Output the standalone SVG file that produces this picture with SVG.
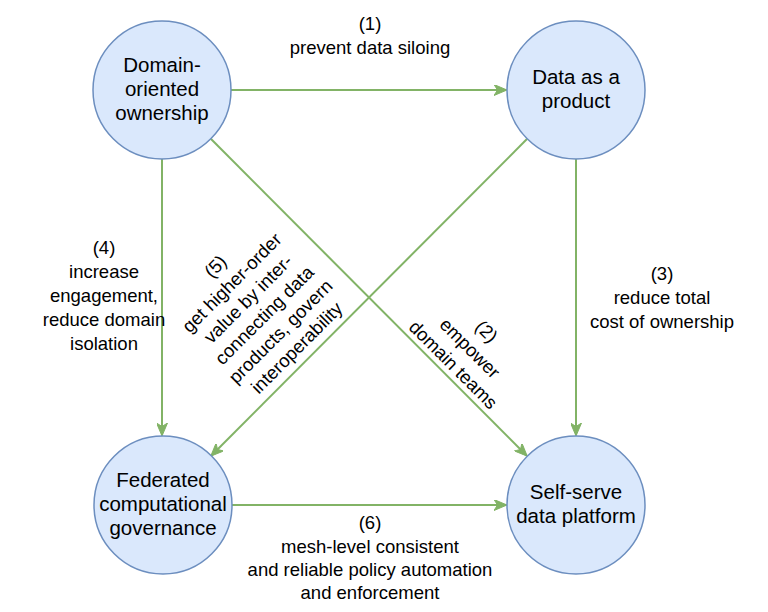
<svg xmlns="http://www.w3.org/2000/svg" width="768" height="612" viewBox="0 0 768 612">
<style>
.node circle{fill:#dae8fc;stroke:#6c8ebf;stroke-width:1.5}
.nl{font-family:"Liberation Sans",Arial,Helvetica,sans-serif;font-size:20.5px;fill:#000;text-anchor:middle}
.el{font-family:"Liberation Sans",Arial,Helvetica,sans-serif;font-size:18.5px;fill:#000;text-anchor:middle}
.edge{stroke:#82b366;stroke-width:2;fill:none}
</style>
<defs>
<marker id="arr" markerUnits="userSpaceOnUse" viewBox="0 0 13 11" refX="12" refY="5.5" markerWidth="13" markerHeight="11" orient="auto">
<path d="M0,0 L13,5.5 L0,11 L3.5,5.5 Z" fill="#82b366" stroke="#82b366" stroke-width="1"/>
</marker>
</defs>
<rect width="768" height="612" fill="#fff"/>
<g id="connectors">
<line class="edge" x1="231" y1="90" x2="506" y2="90" marker-end="url(#arr)"/>
<line class="edge" x1="231" y1="505" x2="506" y2="505" marker-end="url(#arr)"/>
<line class="edge" x1="162" y1="159" x2="162" y2="435" marker-end="url(#arr)"/>
<line class="edge" x1="576" y1="159" x2="576" y2="435" marker-end="url(#arr)"/>
<line class="edge" x1="210.8" y1="138.8" x2="526.5" y2="455.5" marker-end="url(#arr)"/>
<line class="edge" x1="527.2" y1="138.8" x2="211.5" y2="455.5" marker-end="url(#arr)"/>
</g>
<g id="node-domain" class="node">
<circle cx="162" cy="90" r="69"/>
<text class="nl"><tspan x="162" y="72">Domain-</tspan><tspan x="162" y="96">oriented</tspan><tspan x="162" y="120">ownership</tspan></text>
</g>
<g id="node-product" class="node">
<circle cx="576" cy="90" r="69"/>
<text class="nl"><tspan x="576" y="84">Data as a</tspan><tspan x="576" y="108">product</tspan></text>
</g>
<g id="node-governance" class="node">
<circle cx="163" cy="505" r="69"/>
<text class="nl"><tspan x="163" y="487">Federated</tspan><tspan x="163" y="511">computational</tspan><tspan x="163" y="535">governance</tspan></text>
</g>
<g id="node-platform" class="node">
<circle cx="576" cy="505" r="69"/>
<text class="nl"><tspan x="576" y="499">Self-serve</tspan><tspan x="576" y="523">data platform</tspan></text>
</g>
<g id="labels">
<text class="el"><tspan x="370" y="30">(1)</tspan><tspan x="370" y="54">prevent data siloing</tspan></text>
<text class="el"><tspan x="104" y="254">(4)</tspan><tspan x="104" y="278">increase</tspan><tspan x="104" y="302">engagement,</tspan><tspan x="104" y="326">reduce domain</tspan><tspan x="104" y="350">isolation</tspan></text>
<text class="el"><tspan x="662" y="280">(3)</tspan><tspan x="662" y="304">reduce total</tspan><tspan x="662" y="328">cost of ownership</tspan></text>
<text class="el"><tspan x="370" y="529">(6)</tspan><tspan x="370" y="553">mesh-level consistent</tspan><tspan x="370" y="576">and reliable policy automation</tspan><tspan x="370" y="599">and enforcement</tspan></text>
<g transform="translate(470,348) rotate(45)">
<text class="el"><tspan x="0" y="-17">(2)</tspan><tspan x="0" y="6.5">empower</tspan><tspan x="0" y="30">domain teams</tspan></text>
</g>
<g transform="translate(256,307) rotate(-45)">
<text class="el"><tspan x="0" y="-51">(5)</tspan><tspan x="0" y="-28">get higher-order</tspan><tspan x="0" y="-5">value by inter-</tspan><tspan x="0" y="18">connecting data</tspan><tspan x="0" y="41">products, govern</tspan><tspan x="0" y="64">interoperability</tspan></text>
</g>
</g>
</svg>
